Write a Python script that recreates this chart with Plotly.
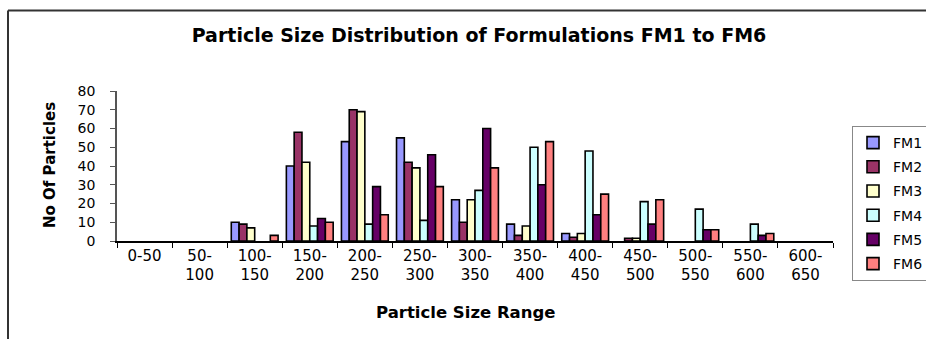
import plotly.graph_objects as go

categories = ["0-50", "50-100", "100-150", "150-200", "200-250", "250-300", "300-350",
              "350-400", "400-450", "450-500", "500-550", "550-600", "600-650"]
tick_labels = ["0-50", "50-<br>100", "100-<br>150", "150-<br>200", "200-<br>250", "250-<br>300",
               "300-<br>350", "350-<br>400", "400-<br>450", "450-<br>500", "500-<br>550",
               "550-<br>600", "600-<br>650"]

fm1 = [0, 0, 10, 40, 53, 55, 22, 9, 4, 0, 0, 0, 0]
fm2 = [0, 0, 9, 58, 70, 42, 10, 3, 2, 1.5, 0, 0, 0]
fm3 = [0, 0, 7, 42, 69, 39, 22, 8, 4, 1.5, 0, 0, 0]
fm4 = [0, 0, 0, 8, 9, 11, 27, 50, 48, 21, 17, 9, 0]
fm5 = [0, 0, 0, 12, 29, 46, 60, 30, 14, 9, 6, 3, 0]
fm6 = [0, 0, 3, 10, 14, 29, 39, 53, 25, 22, 6, 4, 0]

series_names = ["FM1", "FM2", "FM3", "FM4", "FM5", "FM6"]
series_values = [fm1, fm2, fm3, fm4, fm5, fm6]
series_colors = ["#9999FF", "#993366", "#FFFFCC", "#CCFFFF", "#660066", "#FF8080"]

W, H = 926, 339
L, R, T, B = 117, 93, 91, 98
pw, ph = W - L - R, H - T - B

def px_x(p):
    return (p - L) / pw

def px_y(p):
    return (H - B - p) / ph

fig = go.Figure()
for name, vals, col in zip(series_names, series_values, series_colors):
    # zero-height bars are not drawn (no outline line on the baseline)
    yvals = [v if v else None for v in vals]
    fig.add_trace(go.Bar(
        x=categories, y=yvals, name=name, legendgroup=name,
        marker=dict(color=col, line=dict(color="black", width=1.6)),
    ))

fig.update_layout(
    width=W, height=H,
    margin=dict(l=L, r=R, t=T, b=B, autoexpand=False),
    paper_bgcolor="white", plot_bgcolor="white",
    barmode="group", bargap=0.15, bargroupgap=0,
    font=dict(family="DejaVu Sans", color="black"),
    title=dict(text="<b>Particle Size Distribution of Formulations FM1 to FM6</b>",
               x=479 / W, xanchor="center", y=1 - 35 / H, yanchor="middle",
               font=dict(family="DejaVu Sans", size=19, color="black")),
    showlegend=True,
    legend=dict(x=px_x(852), xanchor="left", y=px_y(126), yanchor="top",
                bordercolor="#888888", borderwidth=1, bgcolor="white",
                font=dict(family="DejaVu Sans", size=14, color="black"),
                tracegroupgap=3, entrywidth=90, entrywidthmode="pixels",
                maxheight=220, itemwidth=30),
    xaxis=dict(categoryorder="array", categoryarray=categories,
               tickmode="array", tickvals=categories, ticktext=tick_labels,
               tickson="boundaries", ticks="outside", ticklen=5, tickcolor="black",
               showline=True, linecolor="black", linewidth=1.5,
               showgrid=False, zeroline=False,
               tickfont=dict(family="DejaVu Sans", size=15, color="black")),
    yaxis=dict(range=[0, 80], dtick=10, ticks="outside", ticklen=5, tickcolor="#555555",
               showline=True, linecolor="#555555", linewidth=1.5,
               showgrid=False, zeroline=False, ticklabelstandoff=12,
               tickfont=dict(family="DejaVu Sans", size=14, color="black")),
    annotations=[
        dict(text="<b>Particle Size Range</b>", xref="paper", yref="paper",
             x=px_x(466), y=px_y(312), xanchor="center", yanchor="middle", showarrow=False,
             font=dict(family="DejaVu Sans", size=16.5, color="black")),
        dict(text="<b>No Of Particles</b>", xref="paper", yref="paper", textangle=-90,
             x=px_x(50), y=px_y(165), xanchor="center", yanchor="middle", showarrow=False,
             font=dict(family="DejaVu Sans", size=15, color="black")),
    ],
    shapes=[
        dict(type="line", xref="paper", yref="paper", x0=px_x(8), x1=px_x(W + 2),
             y0=px_y(10.5), y1=px_y(10.5), line=dict(color="#333333", width=2)),
        dict(type="line", xref="paper", yref="paper", x0=px_x(8), x1=px_x(8),
             y0=px_y(10.5), y1=px_y(H + 2), line=dict(color="#333333", width=2)),
    ],
)

fig.write_html("out.html")
